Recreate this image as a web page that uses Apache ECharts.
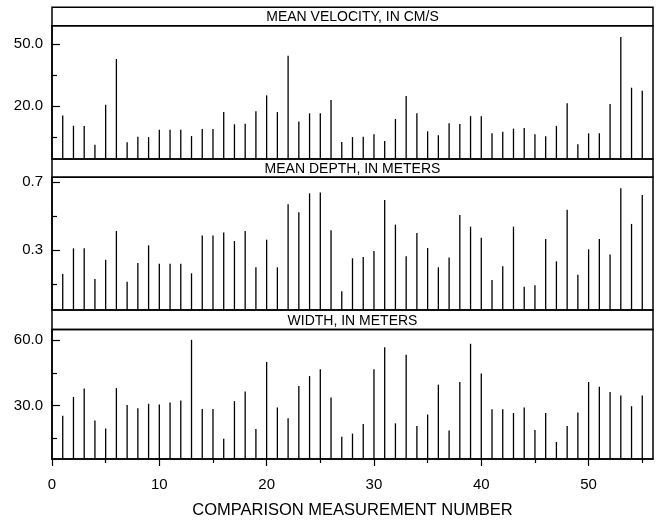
<!DOCTYPE html>
<html>
<head>
<meta charset="utf-8">
<script src="https://cdn.jsdelivr.net/npm/echarts@6/dist/echarts.min.js"></script>
<style>html,body{margin:0;padding:0;background:#fff;}#c{width:657px;height:520px;}</style>
</head>
<body>
<div id="c"></div>
<script>
// ---- data ----
const measurementNumbers = [1,2,3,4,5,6,7,8,9,10,11,12,13,14,15,16,17,18,19,20,21,22,23,24,25,26,27,28,29,30,31,32,33,34,35,36,37,38,39,40,41,42,43,44,45,46,47,48,49,50,51,52,53,54,55];
const meanVelocity = [15.5,10.6,10.5,1.4,20.8,42.9,2.6,5.3,5.1,8.7,8.7,8.7,5.6,9.0,9.0,17.2,11.3,11.6,17.6,25.3,17.2,44.5,12.7,16.6,16.6,23.0,2.7,5.1,5.3,6.5,3.2,13.9,25.0,16.6,7.9,6.0,11.8,11.4,15.2,15.2,6.9,7.7,9.2,9.5,6.5,5.5,10.5,21.5,1.6,6.9,6.9,21.1,53.5,29.0,27.5];
const meanDepth = [0.158,0.31,0.31,0.129,0.243,0.412,0.113,0.223,0.328,0.219,0.219,0.219,0.162,0.385,0.385,0.404,0.353,0.412,0.198,0.361,0.198,0.570,0.523,0.635,0.639,0.416,0.056,0.251,0.259,0.294,0.595,0.45,0.263,0.40,0.312,0.198,0.255,0.507,0.438,0.373,0.123,0.204,0.438,0.083,0.091,0.365,0.233,0.538,0.154,0.304,0.365,0.274,0.665,0.454,0.625];
const widthMeters = [25.4,34.0,37.8,23.3,19.6,38.0,30.3,28.9,30.9,30.6,31.5,32.4,60.0,28.5,28.5,15.0,32.1,36.5,19.4,49.9,29.2,24.3,39.0,43.5,46.6,33.7,15.9,17.3,21.7,46.6,56.6,22.0,53.2,20.8,26.0,39.6,18.7,40.8,58.2,44.7,28.4,28.4,26.7,29.2,19.0,26.7,13.5,20.8,26.9,40.8,38.6,36.2,34.7,29.8,34.6];

const panelTitles = ['MEAN VELOCITY, IN CM/S', 'MEAN DEPTH, IN METERS', 'WIDTH, IN METERS'];
const yLabelValues = [[20, 50], [0.3, 0.7], [30, 60]];
const yMinorValues = [[5, 35], [0.1, 0.5], [15, 45]];
const xLabelValues = [0, 10, 20, 30, 40, 50];
const xMinorValues = [5, 15, 25, 35, 45, 55];
const xAxisTitle = 'COMPARISON MEASUREMENT NUMBER';

// ---- layout (styling only) ----
const FONT = 'Liberation Sans, Arial, Helvetica, sans-serif';
const L = 52, R = 653;
const grids = [
  {top: 25.7, bottom: 159, ymin: -5.5, ymax: 59},
  {top: 177.3, bottom: 310, ymin: -0.0545, ymax: 0.7295},
  {top: 329.5, bottom: 461.7, ymin: 5.75, ymax: 64.7}
];
const bands = [[7.3, 25.7], [159, 177.3], [310, 329.5]];
const seriesData = [meanVelocity, meanDepth, widthMeters];

const chart = echarts.init(document.getElementById('c'), null, {renderer: 'canvas'});

const gridOpt = [], xAxes = [], yAxes = [], series = [], graphics = [];
grids.forEach((g, i) => {
  gridOpt.push({left: L, width: R - L, top: g.top, height: g.bottom - g.top,
    show: true, borderColor: '#000', borderWidth: 1.5, containLabel: false});
  const isBottom = i === grids.length - 1;
  xAxes.push({
    type: 'value', gridIndex: i, min: 0, max: 56, show: true,
    axisLine: {show: isBottom, lineStyle: {color: '#000', width: 1.5}},
    splitLine: {show: false},
    axisTick: {show: isBottom, customValues: xLabelValues, length: 7, lineStyle: {color: '#000', width: 1.2}},
    axisLabel: {show: isBottom, customValues: xLabelValues, color: '#000', fontSize: 15, fontFamily: FONT, margin: 18},
    name: isBottom ? xAxisTitle : '', nameLocation: 'middle', nameGap: 43,
    nameTextStyle: {color: '#000', fontSize: 16.5, fontFamily: FONT}
  });
  xAxes.push({
    type: 'value', gridIndex: i, min: 0, max: 56, show: isBottom, position: 'bottom',
    axisLine: {show: false}, splitLine: {show: false},
    axisTick: {show: isBottom, customValues: xMinorValues, length: 4, lineStyle: {color: '#000', width: 1.2}},
    axisLabel: {show: false}
  });
  yAxes.push({
    type: 'value', gridIndex: i, min: g.ymin, max: g.ymax, position: 'left',
    axisLine: {show: true, lineStyle: {color: '#000', width: 1.5}},
    splitLine: {show: false},
    axisTick: {show: true, inside: true, customValues: yLabelValues[i], length: 8, lineStyle: {color: '#000', width: 1.2}},
    axisLabel: {show: true, customValues: yLabelValues[i], color: '#000', fontSize: 15, fontFamily: FONT, margin: 9,
      padding: [5, 0, 0, 0], formatter: v => Number(v).toFixed(1)}
  });
  yAxes.push({
    type: 'value', gridIndex: i, min: g.ymin, max: g.ymax, position: 'left', offset: 0,
    axisLine: {show: false}, splitLine: {show: false},
    axisTick: {show: true, inside: true, customValues: yMinorValues[i], length: 5, lineStyle: {color: '#000', width: 1.2}},
    axisLabel: {show: false}
  });
  series.push({
    type: 'custom', xAxisIndex: i * 2, yAxisIndex: i * 2,
    data: measurementNumbers.map((n, k) => [n, seriesData[i][k]]),
    renderItem: (params, api) => {
      const top = api.coord([api.value(0), api.value(1)]);
      const cs = params.coordSys;
      const bottomY = cs.y + cs.height;
      return {type: 'line', shape: {x1: top[0], y1: bottomY, x2: top[0], y2: top[1]},
        style: {stroke: '#000', lineWidth: 1.3}};
    },
    animation: false, silent: true
  });
  const b = bands[i];
  graphics.push({type: 'rect', shape: {x: L, y: b[0], width: R - L, height: b[1] - b[0]},
    style: {fill: 'none', stroke: '#000', lineWidth: 1.5}, z: 100});
  graphics.push({type: 'text', x: (L + R) / 2, y: (b[0] + b[1]) / 2 + 1,
    style: {text: panelTitles[i], fill: '#000', fontSize: 14, fontFamily: FONT,
      textAlign: 'center', textVerticalAlign: 'middle'}, z: 100});
});

chart.setOption({
  animation: false,
  backgroundColor: '#fff',
  grid: gridOpt,
  xAxis: xAxes,
  yAxis: yAxes,
  series: series,
  graphic: graphics
});
</script>
</body>
</html>
